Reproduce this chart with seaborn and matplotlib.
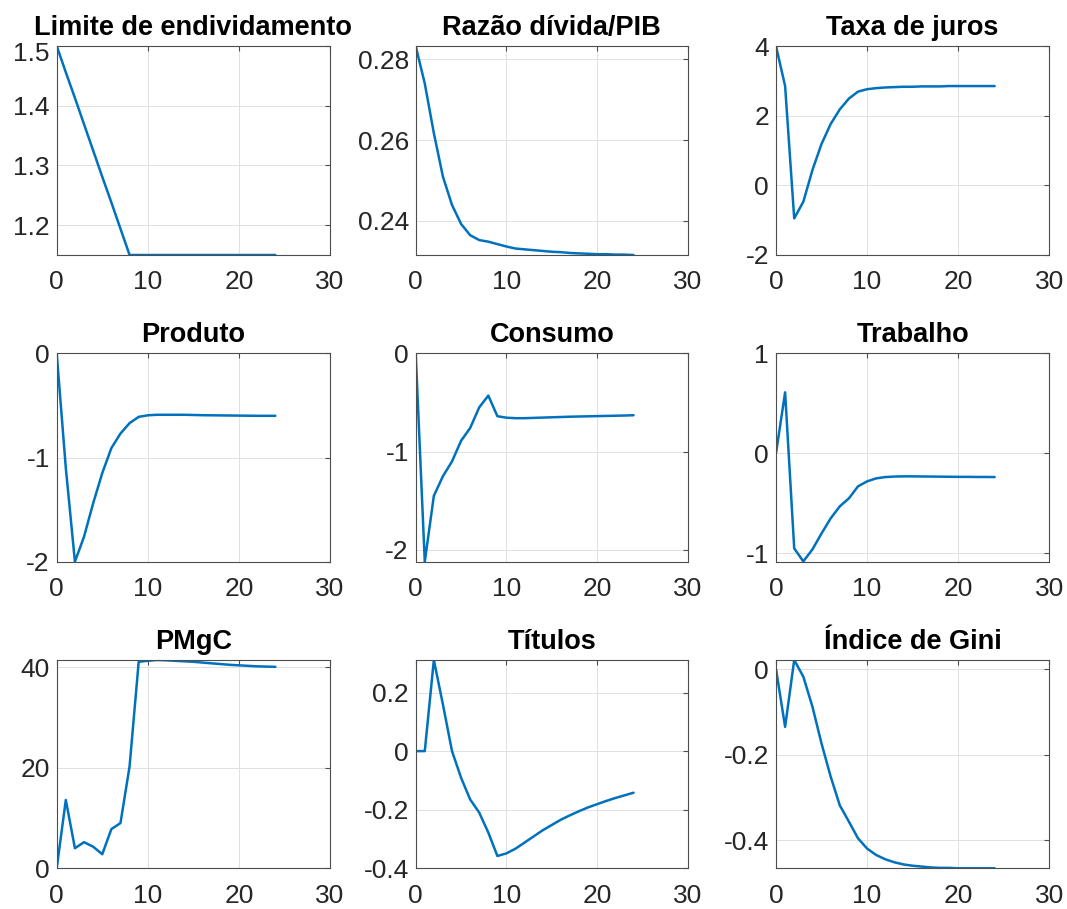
import matplotlib
matplotlib.use("Agg")
import matplotlib.pyplot as plt
import matplotlib.transforms as mtransforms
import seaborn as sns
import numpy as np

# Horizon (periods after the shock)
periods = list(range(25))

# Impulse responses, one list per variable
limite = [1.5, 1.456, 1.413, 1.369, 1.325, 1.281, 1.238, 1.194, 1.15,
          1.15, 1.15, 1.15, 1.15, 1.15, 1.15, 1.15, 1.15, 1.15, 1.15,
          1.15, 1.15, 1.15, 1.15, 1.15, 1.15]
divida_pib = [0.2833, 0.2740, 0.2617, 0.2509, 0.2439, 0.2392, 0.2364, 0.2352,
              0.2348, 0.2342, 0.2336, 0.2331, 0.2329, 0.2327, 0.2325, 0.2323,
              0.2322, 0.2320, 0.2319, 0.2318, 0.2317, 0.2317, 0.2316, 0.2316,
              0.2315]
juros = [4.0, 2.85, -0.95, -0.47, 0.44, 1.19, 1.76, 2.18, 2.49, 2.69, 2.76,
         2.79, 2.81, 2.82, 2.83, 2.83, 2.84, 2.84, 2.84, 2.85, 2.85, 2.85,
         2.85, 2.85, 2.85]
produto = [0.0, -1.1, -2.0, -1.76, -1.44, -1.15, -0.91, -0.77, -0.67, -0.61,
           -0.595, -0.59, -0.59, -0.59, -0.59, -0.592, -0.594, -0.595, -0.596,
           -0.597, -0.598, -0.599, -0.6, -0.6, -0.6]
consumo = [0.0, -2.12, -1.45, -1.25, -1.10, -0.89, -0.76, -0.55, -0.43, -0.64,
           -0.655, -0.66, -0.66, -0.657, -0.654, -0.651, -0.648, -0.645,
           -0.643, -0.641, -0.639, -0.637, -0.635, -0.633, -0.63]
trabalho = [0.0, 0.61, -0.95, -1.08, -0.96, -0.80, -0.65, -0.53, -0.45, -0.33,
            -0.28, -0.25, -0.237, -0.232, -0.23, -0.23, -0.231, -0.232,
            -0.233, -0.234, -0.235, -0.235, -0.236, -0.236, -0.237]
pmgc = [0.0, 13.6, 4.0, 5.2, 4.3, 2.8, 7.8, 9.0, 20.3, 41.1, 41.3, 41.46,
        41.4, 41.3, 41.2, 41.1, 40.95, 40.8, 40.65, 40.5, 40.4, 40.3, 40.2,
        40.15, 40.1]
titulos = [0.0, 0.0, 0.311, 0.159, 0.0, -0.091, -0.165, -0.21, -0.278,
           -0.358, -0.349, -0.333, -0.312, -0.291, -0.27, -0.252, -0.234,
           -0.219, -0.205, -0.192, -0.181, -0.17, -0.16, -0.151, -0.142]
gini = [0.0, -0.135, 0.021, -0.018, -0.088, -0.174, -0.251, -0.318, -0.356,
        -0.395, -0.419, -0.434, -0.444, -0.451, -0.456, -0.459, -0.461,
        -0.463, -0.464, -0.464, -0.465, -0.465, -0.465, -0.465, -0.465]

titles = ["Limite de endividamento", "Razão dívida/PIB", "Taxa de juros",
          "Produto", "Consumo", "Trabalho",
          "PMgC", "Títulos", "Índice de Gini"]
series = [limite, divida_pib, juros, produto, consumo, trabalho,
          pmgc, titulos, gini]

y_limits = [(1.15, 1.5), (0.2315, 0.2833), (-2, 4),
            (-2, 0), (-2.12, 0), (-1.083, 1),
            (0, 41.46), (-0.4, 0.311), (-0.465, 0.021)]
y_ticks = [[1.2, 1.3, 1.4, 1.5], [0.24, 0.26, 0.28], [-2, 0, 2, 4],
           [-2, -1, 0], [-2, -1, 0], [-1, 0, 1],
           [0, 20, 40], [-0.4, -0.2, 0, 0.2], [-0.4, -0.2, 0]]
y_labels = [["1.2", "1.3", "1.4", "1.5"], ["0.24", "0.26", "0.28"],
            ["-2", "0", "2", "4"], ["-2", "-1", "0"], ["-2", "-1", "0"],
            ["-1", "0", "1"], ["0", "20", "40"],
            ["-0.4", "-0.2", "0", "0.2"], ["-0.4", "-0.2", "0"]]
x_ticks = [0, 10, 20, 30]

sns.set_style("white")
plt.rcParams["font.family"] = ["Liberation Sans", "DejaVu Sans"]
plt.rcParams["axes.unicode_minus"] = False

W, H = 1067, 909
fig = plt.figure(figsize=(W / 100, H / 100), dpi=100)

# Panel boxes in pixels: (left, right) per column, (top, bottom) per row
cols = [(56.7, 330.0), (415.7, 688.0), (776.0, 1049.3)]
rows = [(46.0, 255.0), (353.3, 561.7), (660.0, 868.3)]

line_color = "#0072BD"
for i in range(9):
    r, c = divmod(i, 3)
    x0, x1 = cols[c]
    y0, y1 = rows[r]
    ax = fig.add_axes([x0 / W, 1 - y1 / H, (x1 - x0) / W, (y1 - y0) / H])
    sns.lineplot(x=periods, y=series[i], ax=ax, color=line_color,
                 linewidth=1.8)
    ax.set_xlim(0, 30)
    ax.set_ylim(*y_limits[i])
    ax.set_xticks(x_ticks)
    ax.set_xticklabels([str(v) for v in x_ticks])
    ax.set_yticks(y_ticks[i])
    ax.set_yticklabels(y_labels[i])
    ax.set_xlabel("")
    ax.set_ylabel("")
    ax.grid(True, color="#e0e0e0", linewidth=0.7)
    ax.set_axisbelow(True)
    for sp in ax.spines.values():
        sp.set_visible(True)
        sp.set_color("#4d4d4d")
        sp.set_linewidth(0.8)
    ax.tick_params(axis="both", direction="in", length=3.5, width=0.8,
                   color="#4d4d4d", labelsize=19, labelcolor="#262626",
                   top=True, right=True, pad=5)
    ax.tick_params(axis="x", pad=11)
    ax.set_title(titles[i], fontsize=19.5, fontweight="bold", color="black",
                 pad=8)
    # Top y label sitting on the upper edge is nudged down to clear the title
    if i == 0:
        top_label = ax.get_yticklabels()[-1]
        top_label.set_transform(top_label.get_transform() +
                                mtransforms.ScaledTranslation(0, -4 / 72,
                                                              fig.dpi_scale_trans))

fig.savefig("out.png", dpi=100, facecolor="white")
